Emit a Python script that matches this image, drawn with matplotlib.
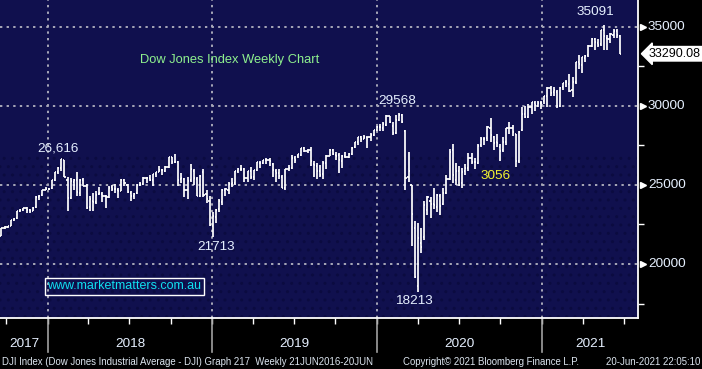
import numpy as np
import pandas as pd
import matplotlib
matplotlib.use("Agg")
import matplotlib.pyplot as plt
import matplotlib.dates as mdates
import matplotlib.transforms as mtrans

# ---------------- data (weekly OHLC, week ending) ----------------
last_week = "2021-06-18"
opens = [
 21800,22270,22340,22420,22770,22880,23330,23440,23540,23420,23360,23580,24250,24340,24660,24760,
 24809,25310,25810,26070,26600,25300,24200,25200,25300,24500,25340,24900,23600,24000,23940,24400,24450,24300,24260,24840,24720,24700,24640,25320,25000,24500,24300,24460,25020,25060,25450,25460,25300,25670,25800,25960,25900,26150,26740,26450,26450,25350,25400,24700,25300,25900,25400,24300,25800,24400,24000,22400,
 23000,23450,23950,24700,24700,25050,25100,25880,26030,26000,25450,25850,25500,25930,26400,26400,26550,26550,26300,25900,25770,25500,24800,26000,26100,26700,26800,26900,27330,27150,27200,26300,26200,25900,25700,26400,26800,27200,26900,26900,26500,26800,26780,26960,27400,27690,28000,27900,28000,28000,28150,28470,
 28650,28600,28800,29350,28700,28300,29100,29400,28400,25500,25000,22300,18600,21300,21700,23400,24000,23800,23600,24300,23800,24500,25400,27200,25300,25900,25100,25900,26100,26700,26450,26400,27500,27900,27950,28600,28000,27700,27400,27200,27700,28600,28600,28200,26500,28500,29500,29300,29900,30200,30000,30200,30300,
 30600,31100,30900,30900,30000,31200,31500,31400,31000,31500,32800,32600,33000,33200,33800,34200,34000,33900,34800,34300,34200,34500,34700,34400]
highs = [
 22275,22420,22420,22777,22906,23368,23485,23557,23602,23490,23602,24328,24350,24670,24876,24796,
 25300,25804,26153,26617,26600,25520,25432,25400,25800,25400,25450,25030,24300,24500,24600,24860,24530,24340,24900,24970,25080,24800,25400,25400,25050,24600,24500,25050,25200,25530,25500,25600,25700,25840,26170,26000,26200,26770,26770,26950,26480,25750,25450,25500,26300,26000,25500,25600,25980,24700,24300,23300,
 23500,24100,24750,24800,25200,25440,25900,26100,26240,26050,25900,26110,25960,26450,26500,26600,26700,26700,26400,26000,26000,25600,26000,26250,26900,26800,26960,27340,27400,27300,27400,26500,26400,26250,26500,26860,27300,27300,27080,27000,26900,27100,27000,27370,27700,28030,28090,28170,28050,28250,28460,28700,
 28870,29000,29400,29375,29000,29400,29568,29500,28500,27100,25000,22700,22600,22300,24000,24300,24250,24800,24400,24400,24800,25600,27300,27580,26400,26200,26100,26300,27000,27000,26700,27600,28000,28000,28700,29200,28100,28200,27600,28000,28600,28950,28800,28200,28400,29930,30000,30100,30220,30320,30300,30300,30640,
 31200,31270,31200,31000,31200,31460,31640,32010,31800,32800,33230,33100,33200,33830,34260,34256,34200,34800,35091,34500,34600,34850,34850,34500]
lows = [
 21790,22240,22250,22410,22740,22860,23260,23350,23240,23240,23340,23540,24060,24320,24650,24700,
 24741,25250,25710,25900,25490,23360,24100,24700,24300,24300,24900,23500,23350,23340,23800,24350,23900,23530,24200,24600,24500,24200,24600,24950,24500,24000,24080,24400,24900,25000,25100,25250,24960,25500,25800,25650,25800,26100,26350,26400,24900,25100,24250,24100,25200,25000,24270,24250,24240,23880,22400,21713,
 22600,23300,23700,24300,24400,24880,25000,25750,25900,25200,25200,25400,25300,25900,26100,26300,26300,26200,25500,25200,25400,24800,24700,25900,26000,26400,26700,26800,27100,27000,26200,25500,25350,25500,25400,26000,26800,26900,26600,25740,26100,26700,26700,26900,27350,27500,27700,27880,27320,27800,28100,28400,
 28400,28400,28750,28900,28150,28200,29050,28900,24680,25200,21150,19100,18213,20700,21500,23100,22900,23500,23300,23100,23700,24400,25300,25100,25000,24900,24800,25600,25900,26300,26000,26300,27400,27500,27800,27700,27200,27400,26540,27100,27500,28200,28100,26140,26400,28400,29200,29200,29500,29700,29900,29800,30100,
 29900,30600,30600,29860,29900,31000,31200,30900,30550,31400,32300,32100,32800,33100,33700,33500,33700,33800,33500,33500,34000,34300,34300,33270]
closes = [
 22268,22350,22405,22773,22871,23329,23434,23539,23422,23358,23558,24231,24329,24651,24754,24719,
 25295,25803,26071,26616,25520,24190,25219,25309,24538,25335,24946,23533,24103,23933,24360,24463,24311,24263,24831,24715,24753,24635,25317,25090,24581,24271,24456,25019,25058,25451,25463,25313,25669,25790,25965,25917,26155,26744,26458,26447,25340,25444,24688,25271,25989,25413,24286,25538,24389,24101,22445,23062,
 23433,23996,24706,24737,25064,25106,25883,26031,26026,25450,25849,25502,25929,26425,26412,26559,26543,26505,25942,25764,25586,24815,25984,26090,26719,26600,26922,27332,27154,27192,26485,26287,25886,25629,26403,26797,27220,26935,26820,26573,26817,26770,26958,27347,27681,28005,27876,28051,28015,28135,28455,28645,
 28634,28823,29348,28990,28256,29102,29398,28992,25409,25864,23186,19174,21637,21053,23719,24242,23775,23724,24331,23685,24465,25383,27111,25606,25871,25016,25827,26075,26672,26470,26428,27433,27931,27930,28654,28133,27666,27657,27174,27683,28587,28606,28336,26502,28323,29480,29263,29910,30218,30046,30179,30200,30606,
 31098,30814,30997,29983,31148,31458,31494,30932,31496,32779,32628,33073,33153,33801,34200,34043,33875,34778,34382,34208,34529,34756,34480,33290]

y_major = [20000, 25000, 30000, 35000]
y_minor = [17500, 22500, 27500, 32500]
year_labels = ["2017", "2018", "2019", "2020", "2021"]
last_price_label = "33290.08"
annotations = [("26,616", "2018-01-24", 27330), ("29568", "2020-02-14", 30300),
               ("21713", "2019-01-10", 21075), ("18213", "2020-03-23", 17660),
               ("35091", "2021-04-29", 35930)]
highlight = ("3056", "2020-09-21", 25560)
title_text = "Dow Jones Index Weekly Chart"
site_text = "www.marketmatters.com.au"
footer_left = "DJI Index (Dow Jones Industrial Average - DJI) Graph 217  Weekly 21JUN2016-20JUN"
footer_mid = "Copyright\u00a9 2021 Bloomberg Finance L.P."
footer_right = "20-Jun-2021 22:05:10"

# ---------------- figure ----------------
plt.rcParams["font.family"] = ["Liberation Sans", "DejaVu Sans"]
W, H = 702, 369
fig = plt.figure(figsize=(W / 100, H / 100), dpi=100, facecolor="black")
ax = fig.add_axes([0, 51 / H, 638 / W, 318 / H])
navy = "#10104e"
ax.set_facecolor(navy)

n = len(closes)
dates = pd.date_range(end=last_week, periods=n, freq="W-FRI") + pd.Timedelta(days=5)
x = mdates.date2num(dates)
tick_half = 2.6
bar_col = "white"
lw = 1.25
ax.vlines(x, lows, highs, color=bar_col, lw=lw, zorder=3)
ax.hlines(opens, x - tick_half, x, color=bar_col, lw=lw, zorder=3)
ax.hlines(closes, x, x + tick_half, color=bar_col, lw=lw, zorder=3)

x0 = mdates.date2num(pd.Timestamp("2017-09-17"))
x1 = mdates.date2num(pd.Timestamp("2021-08-02"))
ax.set_xlim(x0, x1)
ax.set_ylim(16587, 36688)

# lower textured region (subtle)
ax.axhspan(16587, 26890, facecolor="none", edgecolor="#0b0b40", hatch="..", lw=0, zorder=0)

# grid
grid_kw = dict(color="#a8a8b8", lw=1.4, ls=(0, (1.2, 2.2)), zorder=1)
for v in y_major:
    ax.axhline(v, **grid_kw)
year_starts = [mdates.date2num(pd.Timestamp(f"{y}-01-01")) for y in range(2018, 2022)]
for xs in year_starts:
    ax.axvline(xs, **grid_kw)

# spines
for s in ["left", "top"]:
    ax.spines[s].set_visible(False)
for s in ["right", "bottom"]:
    ax.spines[s].set_color("white")
    ax.spines[s].set_linewidth(1.3)

# x ticks: quarterly ticks
ax.xaxis.set_major_locator(mdates.MonthLocator(bymonth=[1, 4, 7, 10]))
ax.tick_params(axis="x", which="major", length=4, width=1, color="white", labelbottom=False)
# y ticks on right
ax.yaxis.tick_right()
ax.set_yticks(y_minor)
ax.set_yticklabels([])
ax.tick_params(axis="y", which="major", length=4, width=1, color="white", direction="out")

tr_y = mtrans.blended_transform_factory(ax.transAxes, ax.transData)
tr_x = mtrans.blended_transform_factory(ax.transData, ax.transAxes)
label_col = "#e6f0ff"
fs = 9.7
for v in y_major:
    ax.plot([1.0 + 5 / 638], [v], marker=">", ms=5, color="white", transform=tr_y, clip_on=False, zorder=5)
    ax.text(1.0 + 10 / 638, v, f"{v}", transform=tr_y, color=label_col, fontsize=fs,
            va="center", ha="left", clip_on=False)

# last price flag
ax.text(1.0 + 11 / 638, closes[-1], last_price_label, transform=tr_y, color="black", fontsize=9,
        va="center", ha="left", clip_on=False,
        bbox=dict(boxstyle="larrow,pad=0.1", fc="white", ec="white"))

# year separators and labels
for xs in year_starts:
    ax.plot([xs, xs], [0, -34 / 318], color="#a0a0a0", lw=1.2, transform=tr_x, clip_on=False)
bounds = [x0] + year_starts + [x1]
for i, lab in enumerate(year_labels):
    xm = (bounds[i] + bounds[i + 1]) / 2
    ax.text(xm, -26 / 318, lab, transform=tr_x, color=label_col, fontsize=fs,
            ha="center", va="center", clip_on=False)

# annotations
for txt, d, v in annotations:
    ax.text(mdates.date2num(pd.Timestamp(d)), v, txt, color=label_col, fontsize=fs,
            ha="center", va="center", zorder=6)
ax.text(mdates.date2num(pd.Timestamp(highlight[1])), highlight[2], highlight[0],
        color="#f4f430", fontsize=fs, ha="center", va="center", zorder=6)

ax.text(230 / 638, 1 - 60 / 318, title_text, transform=ax.transAxes, color="#8ef08e",
        fontsize=9.3, ha="center", va="center")
ax.text(124.5 / 638, 1 - 286 / 318, site_text, transform=ax.transAxes, color="#10e0f0",
        fontsize=9, ha="center", va="center",
        bbox=dict(boxstyle="square,pad=0.2", fc="none", ec="white", lw=1))

# footer
fkw = dict(color="#dde6f0", fontsize=6.95, va="center", family=["Liberation Sans Narrow", "Liberation Sans"])
fig.text(2 / W, 1 - 362 / H, footer_left, ha="left", **fkw)
fig.text(403 / W, 1 - 362 / H, footer_mid, ha="left", **fkw)
fig.text(700 / W, 1 - 362 / H, footer_right, ha="right", **fkw)

fig.savefig("out.png", dpi=100, facecolor="black")
